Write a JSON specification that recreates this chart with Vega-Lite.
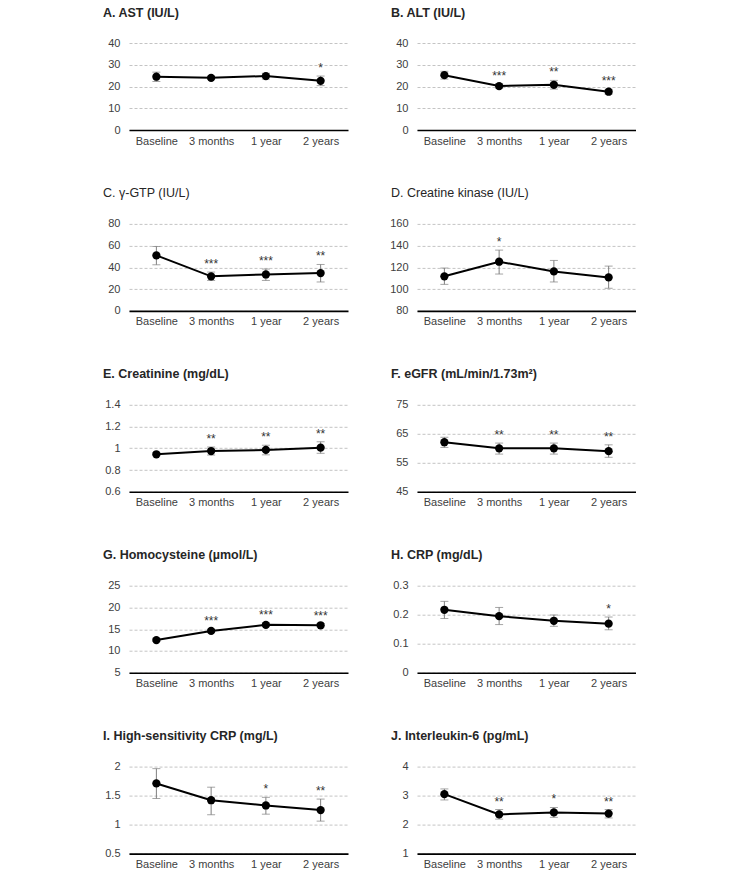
{
  "$schema": "https://vega.github.io/schema/vega-lite/v6.json",
  "padding": {"left": 103, "top": 6, "right": 0, "bottom": 0},
  "datasets": {
    "labs": [
      {"panel": "A", "time": "Baseline", "value": 24.5, "lo": 22.3, "hi": 26.6, "sig": ""},
      {"panel": "A", "time": "3 months", "value": 24.0, "lo": 23.2, "hi": 24.8, "sig": ""},
      {"panel": "A", "time": "1 year", "value": 24.8, "lo": 23.4, "hi": 26.1, "sig": ""},
      {"panel": "A", "time": "2 years", "value": 22.6, "lo": 20.4, "hi": 24.8, "sig": "*"},
      {"panel": "B", "time": "Baseline", "value": 25.2, "lo": 23.4, "hi": 27.0, "sig": ""},
      {"panel": "B", "time": "3 months", "value": 20.2, "lo": 19.2, "hi": 21.2, "sig": "***"},
      {"panel": "B", "time": "1 year", "value": 20.8, "lo": 18.8, "hi": 22.8, "sig": "**"},
      {"panel": "B", "time": "2 years", "value": 17.6, "lo": 16.5, "hi": 18.7, "sig": "***"},
      {"panel": "C", "time": "Baseline", "value": 51.0, "lo": 42.4, "hi": 59.2, "sig": ""},
      {"panel": "C", "time": "3 months", "value": 31.8, "lo": 28.0, "hi": 35.7, "sig": "***"},
      {"panel": "C", "time": "1 year", "value": 33.5, "lo": 28.0, "hi": 38.5, "sig": "***"},
      {"panel": "C", "time": "2 years", "value": 34.8, "lo": 26.6, "hi": 42.7, "sig": "**"},
      {"panel": "D", "time": "Baseline", "value": 111.8, "lo": 104.4, "hi": 119.4, "sig": ""},
      {"panel": "D", "time": "3 months", "value": 125.2, "lo": 113.9, "hi": 135.9, "sig": "*"},
      {"panel": "D", "time": "1 year", "value": 116.3, "lo": 106.6, "hi": 126.4, "sig": ""},
      {"panel": "D", "time": "2 years", "value": 110.8, "lo": 100.8, "hi": 121.2, "sig": ""},
      {"panel": "E", "time": "Baseline", "value": 0.945, "lo": 0.932, "hi": 0.958, "sig": ""},
      {"panel": "E", "time": "3 months", "value": 0.975, "lo": 0.938, "hi": 1.012, "sig": "**"},
      {"panel": "E", "time": "1 year", "value": 0.985, "lo": 0.94, "hi": 1.028, "sig": "**"},
      {"panel": "E", "time": "2 years", "value": 1.006, "lo": 0.954, "hi": 1.06, "sig": "**"},
      {"panel": "F", "time": "Baseline", "value": 62.1, "lo": 60.3, "hi": 63.8, "sig": ""},
      {"panel": "F", "time": "3 months", "value": 60.0, "lo": 58.0, "hi": 61.8, "sig": "**"},
      {"panel": "F", "time": "1 year", "value": 60.0, "lo": 58.0, "hi": 61.8, "sig": "**"},
      {"panel": "F", "time": "2 years", "value": 59.0, "lo": 56.9, "hi": 61.2, "sig": "**"},
      {"panel": "G", "time": "Baseline", "value": 12.5, "lo": 12.2, "hi": 12.8, "sig": ""},
      {"panel": "G", "time": "3 months", "value": 14.6, "lo": 14.2, "hi": 15.0, "sig": "***"},
      {"panel": "G", "time": "1 year", "value": 16.0, "lo": 15.6, "hi": 16.5, "sig": "***"},
      {"panel": "G", "time": "2 years", "value": 15.9, "lo": 15.5, "hi": 16.3, "sig": "***"},
      {"panel": "H", "time": "Baseline", "value": 0.217, "lo": 0.187, "hi": 0.246, "sig": ""},
      {"panel": "H", "time": "3 months", "value": 0.195, "lo": 0.166, "hi": 0.225, "sig": ""},
      {"panel": "H", "time": "1 year", "value": 0.179, "lo": 0.16, "hi": 0.199, "sig": ""},
      {"panel": "H", "time": "2 years", "value": 0.169, "lo": 0.148, "hi": 0.192, "sig": "*"},
      {"panel": "I", "time": "Baseline", "value": 1.71, "lo": 1.45, "hi": 1.965, "sig": ""},
      {"panel": "I", "time": "3 months", "value": 1.42, "lo": 1.17, "hi": 1.645, "sig": ""},
      {"panel": "I", "time": "1 year", "value": 1.33, "lo": 1.18, "hi": 1.47, "sig": "*"},
      {"panel": "I", "time": "2 years", "value": 1.25, "lo": 1.06, "hi": 1.44, "sig": "**"},
      {"panel": "J", "time": "Baseline", "value": 3.05, "lo": 2.85, "hi": 3.23, "sig": ""},
      {"panel": "J", "time": "3 months", "value": 2.35, "lo": 2.19, "hi": 2.52, "sig": "**"},
      {"panel": "J", "time": "1 year", "value": 2.42, "lo": 2.25, "hi": 2.59, "sig": "*"},
      {"panel": "J", "time": "2 years", "value": 2.38, "lo": 2.23, "hi": 2.52, "sig": "**"}
    ]
  },
  "data": {"name": "labs"},
  "columns": 2,
  "spacing": {"row": 40.9, "column": 41},
  "concat": [
    {
      "title": {"text": "A. AST (IU/L)"},
      "width": 219, "height": 87,
      "transform": [{"filter": "datum.panel === 'A'"}],
      "encoding": {"x": {"field": "time", "type": "ordinal", "sort": ["Baseline", "3 months", "1 year", "2 years"], "scale": {"type": "point", "padding": 0.5}, "title": null}},
      "layer": [
        {"mark": {"type": "errorbar", "ticks": {"size": 8}, "color": "#7f7f7f"}, "encoding": {"y": {"field": "lo", "type": "quantitative", "title": null, "scale": {"domain": [0, 40]}, "axis": {"values": [0, 10, 20, 30, 40]}}, "y2": {"field": "hi"}}},
        {"mark": {"type": "line", "color": "#000", "strokeWidth": 2, "point": {"filled": true, "size": 68, "color": "#000"}}, "encoding": {"y": {"field": "value", "type": "quantitative", "title": null, "scale": {"domain": [0, 40]}, "axis": {"values": [0, 10, 20, 30, 40]}}}},
        {"transform": [{"filter": "datum.sig !== ''"}], "mark": {"type": "text", "dy": -4, "baseline": "alphabetic", "fontSize": 12, "color": "#333"}, "encoding": {"y": {"field": "hi", "type": "quantitative", "title": null, "scale": {"domain": [0, 40]}, "axis": {"values": [0, 10, 20, 30, 40]}}, "text": {"field": "sig"}}}
      ]
    },
    {
      "title": {"text": "B. ALT (IU/L)"},
      "width": 219, "height": 87,
      "transform": [{"filter": "datum.panel === 'B'"}],
      "encoding": {"x": {"field": "time", "type": "ordinal", "sort": ["Baseline", "3 months", "1 year", "2 years"], "scale": {"type": "point", "padding": 0.5}, "title": null}},
      "layer": [
        {"mark": {"type": "errorbar", "ticks": {"size": 8}, "color": "#7f7f7f"}, "encoding": {"y": {"field": "lo", "type": "quantitative", "title": null, "scale": {"domain": [0, 40]}, "axis": {"values": [0, 10, 20, 30, 40]}}, "y2": {"field": "hi"}}},
        {"mark": {"type": "line", "color": "#000", "strokeWidth": 2, "point": {"filled": true, "size": 68, "color": "#000"}}, "encoding": {"y": {"field": "value", "type": "quantitative", "title": null, "scale": {"domain": [0, 40]}, "axis": {"values": [0, 10, 20, 30, 40]}}}},
        {"transform": [{"filter": "datum.sig !== ''"}], "mark": {"type": "text", "dy": -4, "baseline": "alphabetic", "fontSize": 12, "color": "#333"}, "encoding": {"y": {"field": "hi", "type": "quantitative", "title": null, "scale": {"domain": [0, 40]}, "axis": {"values": [0, 10, 20, 30, 40]}}, "text": {"field": "sig"}}}
      ]
    },
    {
      "title": {"text": "C. γ-GTP (IU/L)", "fontWeight": "normal"},
      "width": 219, "height": 87,
      "transform": [{"filter": "datum.panel === 'C'"}],
      "encoding": {"x": {"field": "time", "type": "ordinal", "sort": ["Baseline", "3 months", "1 year", "2 years"], "scale": {"type": "point", "padding": 0.5}, "title": null}},
      "layer": [
        {"mark": {"type": "errorbar", "ticks": {"size": 8}, "color": "#7f7f7f"}, "encoding": {"y": {"field": "lo", "type": "quantitative", "title": null, "scale": {"domain": [0, 80]}, "axis": {"values": [0, 20, 40, 60, 80]}}, "y2": {"field": "hi"}}},
        {"mark": {"type": "line", "color": "#000", "strokeWidth": 2, "point": {"filled": true, "size": 68, "color": "#000"}}, "encoding": {"y": {"field": "value", "type": "quantitative", "title": null, "scale": {"domain": [0, 80]}, "axis": {"values": [0, 20, 40, 60, 80]}}}},
        {"transform": [{"filter": "datum.sig !== ''"}], "mark": {"type": "text", "dy": -4, "baseline": "alphabetic", "fontSize": 12, "color": "#333"}, "encoding": {"y": {"field": "hi", "type": "quantitative", "title": null, "scale": {"domain": [0, 80]}, "axis": {"values": [0, 20, 40, 60, 80]}}, "text": {"field": "sig"}}}
      ]
    },
    {
      "title": {"text": "D. Creatine kinase (IU/L)", "fontWeight": "normal"},
      "width": 219, "height": 87,
      "transform": [{"filter": "datum.panel === 'D'"}],
      "encoding": {"x": {"field": "time", "type": "ordinal", "sort": ["Baseline", "3 months", "1 year", "2 years"], "scale": {"type": "point", "padding": 0.5}, "title": null}},
      "layer": [
        {"mark": {"type": "errorbar", "ticks": {"size": 8}, "color": "#7f7f7f"}, "encoding": {"y": {"field": "lo", "type": "quantitative", "title": null, "scale": {"domain": [80, 160], "zero": false}, "axis": {"values": [80, 100, 120, 140, 160]}}, "y2": {"field": "hi"}}},
        {"mark": {"type": "line", "color": "#000", "strokeWidth": 2, "point": {"filled": true, "size": 68, "color": "#000"}}, "encoding": {"y": {"field": "value", "type": "quantitative", "title": null, "scale": {"domain": [80, 160], "zero": false}, "axis": {"values": [80, 100, 120, 140, 160]}}}},
        {"transform": [{"filter": "datum.sig !== ''"}], "mark": {"type": "text", "dy": -4, "baseline": "alphabetic", "fontSize": 12, "color": "#333"}, "encoding": {"y": {"field": "hi", "type": "quantitative", "title": null, "scale": {"domain": [80, 160], "zero": false}, "axis": {"values": [80, 100, 120, 140, 160]}}, "text": {"field": "sig"}}}
      ]
    },
    {
      "title": {"text": "E. Creatinine (mg/dL)"},
      "width": 219, "height": 87,
      "transform": [{"filter": "datum.panel === 'E'"}],
      "encoding": {"x": {"field": "time", "type": "ordinal", "sort": ["Baseline", "3 months", "1 year", "2 years"], "scale": {"type": "point", "padding": 0.5}, "title": null}},
      "layer": [
        {"mark": {"type": "errorbar", "ticks": {"size": 8}, "color": "#7f7f7f"}, "encoding": {"y": {"field": "lo", "type": "quantitative", "title": null, "scale": {"domain": [0.6, 1.4], "zero": false}, "axis": {"values": [0.6, 0.8, 1, 1.2, 1.4]}}, "y2": {"field": "hi"}}},
        {"mark": {"type": "line", "color": "#000", "strokeWidth": 2, "point": {"filled": true, "size": 68, "color": "#000"}}, "encoding": {"y": {"field": "value", "type": "quantitative", "title": null, "scale": {"domain": [0.6, 1.4], "zero": false}, "axis": {"values": [0.6, 0.8, 1, 1.2, 1.4]}}}},
        {"transform": [{"filter": "datum.sig !== ''"}], "mark": {"type": "text", "dy": -4, "baseline": "alphabetic", "fontSize": 12, "color": "#333"}, "encoding": {"y": {"field": "hi", "type": "quantitative", "title": null, "scale": {"domain": [0.6, 1.4], "zero": false}, "axis": {"values": [0.6, 0.8, 1, 1.2, 1.4]}}, "text": {"field": "sig"}}}
      ]
    },
    {
      "title": {"text": "F. eGFR (mL/min/1.73m²)"},
      "width": 219, "height": 87,
      "transform": [{"filter": "datum.panel === 'F'"}],
      "encoding": {"x": {"field": "time", "type": "ordinal", "sort": ["Baseline", "3 months", "1 year", "2 years"], "scale": {"type": "point", "padding": 0.5}, "title": null}},
      "layer": [
        {"mark": {"type": "errorbar", "ticks": {"size": 8}, "color": "#7f7f7f"}, "encoding": {"y": {"field": "lo", "type": "quantitative", "title": null, "scale": {"domain": [45, 75], "zero": false}, "axis": {"values": [45, 55, 65, 75]}}, "y2": {"field": "hi"}}},
        {"mark": {"type": "line", "color": "#000", "strokeWidth": 2, "point": {"filled": true, "size": 68, "color": "#000"}}, "encoding": {"y": {"field": "value", "type": "quantitative", "title": null, "scale": {"domain": [45, 75], "zero": false}, "axis": {"values": [45, 55, 65, 75]}}}},
        {"transform": [{"filter": "datum.sig !== ''"}], "mark": {"type": "text", "dy": -4, "baseline": "alphabetic", "fontSize": 12, "color": "#333"}, "encoding": {"y": {"field": "hi", "type": "quantitative", "title": null, "scale": {"domain": [45, 75], "zero": false}, "axis": {"values": [45, 55, 65, 75]}}, "text": {"field": "sig"}}}
      ]
    },
    {
      "title": {"text": "G. Homocysteine (µmol/L)"},
      "width": 219, "height": 87,
      "transform": [{"filter": "datum.panel === 'G'"}],
      "encoding": {"x": {"field": "time", "type": "ordinal", "sort": ["Baseline", "3 months", "1 year", "2 years"], "scale": {"type": "point", "padding": 0.5}, "title": null}},
      "layer": [
        {"mark": {"type": "errorbar", "ticks": {"size": 8}, "color": "#7f7f7f"}, "encoding": {"y": {"field": "lo", "type": "quantitative", "title": null, "scale": {"domain": [5, 25], "zero": false}, "axis": {"values": [5, 10, 15, 20, 25]}}, "y2": {"field": "hi"}}},
        {"mark": {"type": "line", "color": "#000", "strokeWidth": 2, "point": {"filled": true, "size": 68, "color": "#000"}}, "encoding": {"y": {"field": "value", "type": "quantitative", "title": null, "scale": {"domain": [5, 25], "zero": false}, "axis": {"values": [5, 10, 15, 20, 25]}}}},
        {"transform": [{"filter": "datum.sig !== ''"}], "mark": {"type": "text", "dy": -4, "baseline": "alphabetic", "fontSize": 12, "color": "#333"}, "encoding": {"y": {"field": "hi", "type": "quantitative", "title": null, "scale": {"domain": [5, 25], "zero": false}, "axis": {"values": [5, 10, 15, 20, 25]}}, "text": {"field": "sig"}}}
      ]
    },
    {
      "title": {"text": "H. CRP (mg/dL)"},
      "width": 219, "height": 87,
      "transform": [{"filter": "datum.panel === 'H'"}],
      "encoding": {"x": {"field": "time", "type": "ordinal", "sort": ["Baseline", "3 months", "1 year", "2 years"], "scale": {"type": "point", "padding": 0.5}, "title": null}},
      "layer": [
        {"mark": {"type": "errorbar", "ticks": {"size": 8}, "color": "#7f7f7f"}, "encoding": {"y": {"field": "lo", "type": "quantitative", "title": null, "scale": {"domain": [0, 0.3]}, "axis": {"values": [0, 0.1, 0.2, 0.3]}}, "y2": {"field": "hi"}}},
        {"mark": {"type": "line", "color": "#000", "strokeWidth": 2, "point": {"filled": true, "size": 68, "color": "#000"}}, "encoding": {"y": {"field": "value", "type": "quantitative", "title": null, "scale": {"domain": [0, 0.3]}, "axis": {"values": [0, 0.1, 0.2, 0.3]}}}},
        {"transform": [{"filter": "datum.sig !== ''"}], "mark": {"type": "text", "dy": -4, "baseline": "alphabetic", "fontSize": 12, "color": "#333"}, "encoding": {"y": {"field": "hi", "type": "quantitative", "title": null, "scale": {"domain": [0, 0.3]}, "axis": {"values": [0, 0.1, 0.2, 0.3]}}, "text": {"field": "sig"}}}
      ]
    },
    {
      "title": {"text": "I. High-sensitivity CRP (mg/L)"},
      "width": 219, "height": 87,
      "transform": [{"filter": "datum.panel === 'I'"}],
      "encoding": {"x": {"field": "time", "type": "ordinal", "sort": ["Baseline", "3 months", "1 year", "2 years"], "scale": {"type": "point", "padding": 0.5}, "title": null}},
      "layer": [
        {"mark": {"type": "errorbar", "ticks": {"size": 8}, "color": "#7f7f7f"}, "encoding": {"y": {"field": "lo", "type": "quantitative", "title": null, "scale": {"domain": [0.5, 2], "zero": false}, "axis": {"values": [0.5, 1, 1.5, 2]}}, "y2": {"field": "hi"}}},
        {"mark": {"type": "line", "color": "#000", "strokeWidth": 2, "point": {"filled": true, "size": 68, "color": "#000"}}, "encoding": {"y": {"field": "value", "type": "quantitative", "title": null, "scale": {"domain": [0.5, 2], "zero": false}, "axis": {"values": [0.5, 1, 1.5, 2]}}}},
        {"transform": [{"filter": "datum.sig !== ''"}], "mark": {"type": "text", "dy": -4, "baseline": "alphabetic", "fontSize": 12, "color": "#333"}, "encoding": {"y": {"field": "hi", "type": "quantitative", "title": null, "scale": {"domain": [0.5, 2], "zero": false}, "axis": {"values": [0.5, 1, 1.5, 2]}}, "text": {"field": "sig"}}}
      ]
    },
    {
      "title": {"text": "J. Interleukin-6 (pg/mL)"},
      "width": 219, "height": 87,
      "transform": [{"filter": "datum.panel === 'J'"}],
      "encoding": {"x": {"field": "time", "type": "ordinal", "sort": ["Baseline", "3 months", "1 year", "2 years"], "scale": {"type": "point", "padding": 0.5}, "title": null}},
      "layer": [
        {"mark": {"type": "errorbar", "ticks": {"size": 8}, "color": "#7f7f7f"}, "encoding": {"y": {"field": "lo", "type": "quantitative", "title": null, "scale": {"domain": [1, 4], "zero": false}, "axis": {"values": [1, 2, 3, 4]}}, "y2": {"field": "hi"}}},
        {"mark": {"type": "line", "color": "#000", "strokeWidth": 2, "point": {"filled": true, "size": 68, "color": "#000"}}, "encoding": {"y": {"field": "value", "type": "quantitative", "title": null, "scale": {"domain": [1, 4], "zero": false}, "axis": {"values": [1, 2, 3, 4]}}}},
        {"transform": [{"filter": "datum.sig !== ''"}], "mark": {"type": "text", "dy": -4, "baseline": "alphabetic", "fontSize": 12, "color": "#333"}, "encoding": {"y": {"field": "hi", "type": "quantitative", "title": null, "scale": {"domain": [1, 4], "zero": false}, "axis": {"values": [1, 2, 3, 4]}}, "text": {"field": "sig"}}}
      ]
    }
  ],
  "config": {
    "font": "Liberation Sans",
    "view": {"stroke": null},
    "axisY": {"domain": false, "ticks": false, "grid": true, "gridDash": [3, 2], "gridColor": "#c4c4c4", "labelFontSize": 11, "labelColor": "#404040", "labelPadding": 9, "format": ".2~f", "labelOverlap": false},
    "axisX": {"domainColor": "#000", "domainWidth": 1.6, "ticks": false, "labelAngle": 0, "labelFontSize": 11, "labelColor": "#404040", "labelPadding": 5, "grid": false},
    "title": {"anchor": "start", "frame": "group", "fontSize": 12.5, "fontWeight": "bold", "color": "#262626", "offset": 18, "dx": -26}
  }
}
